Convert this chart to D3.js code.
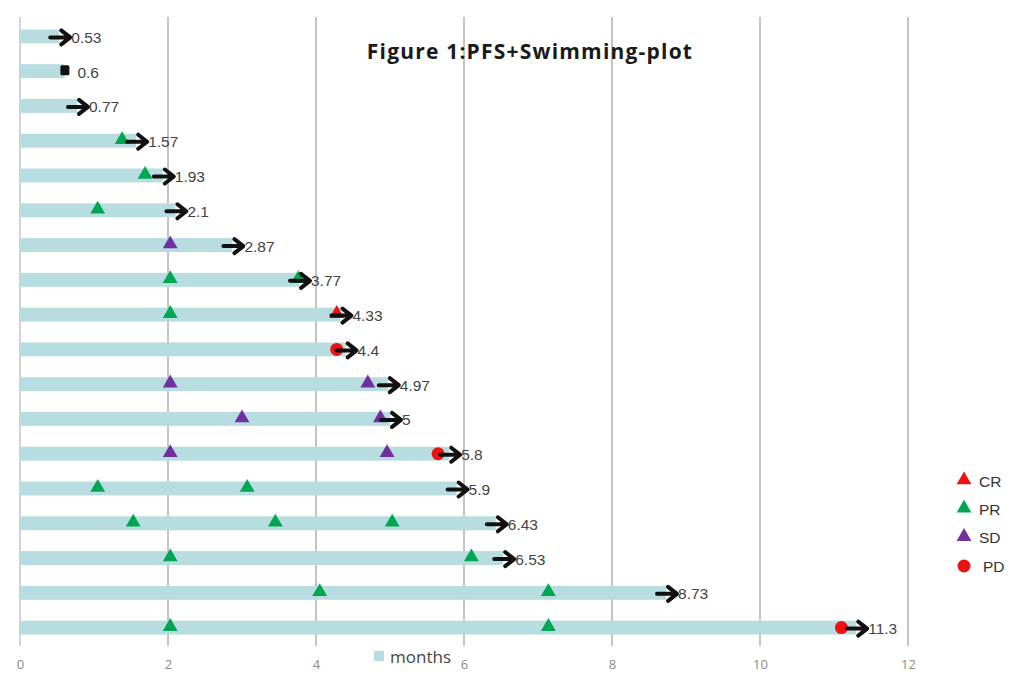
<!DOCTYPE html>
<html>
<head>
<meta charset="utf-8">
<script src="https://cdn.jsdelivr.net/npm/d3@7"></script>
<style>
  html, body { margin: 0; padding: 0; background: #fff; }
  svg { display: block; }
</style>
</head>
<body>
<svg id="chart" width="1034" height="675"></svg>
<script>
// ---- data ----
const durations = [0.53, 0.6, 0.77, 1.57, 1.93, 2.1, 2.87, 3.77, 4.33, 4.4, 4.97, 5, 5.8, 5.9, 6.43, 6.53, 8.73, 11.3];
const durationLabels = ["0.53", "0.6", "0.77", "1.57", "1.93", "2.1", "2.87", "3.77", "4.33", "4.4", "4.97", "5", "5.8", "5.9", "6.43", "6.53", "8.73", "11.3"];
const ongoing = [true, false, true, true, true, true, true, true, true, true, true, true, true, true, true, true, true, true];
const patients = d3.range(1, durations.length + 1);

// events: patient index (1-based, top to bottom) and time in months
const crPatients = [9];
const crTimes = [4.28];
const prPatients = [4, 5, 6, 8, 8, 9, 14, 14, 15, 15, 15, 16, 16, 17, 17, 18, 18];
const prTimes = [1.38, 1.69, 1.05, 2.03, 3.76, 2.03, 1.05, 3.07, 1.53, 3.45, 5.03, 2.03, 6.1, 4.05, 7.14, 2.03, 7.14];
const sdPatients = [7, 11, 11, 12, 12, 13, 13];
const sdTimes = [2.03, 2.03, 4.7, 3.0, 4.87, 2.03, 4.96];
const pdPatients = [10, 13, 18];
const pdTimes = [4.28, 5.65, 11.1];

const xTicks = [0, 2, 4, 6, 8, 10, 12];
const legendLabels = ["CR", "PR", "SD", "PD"];
const title = "Figure 1:PFS+Swimming-plot";
const seriesLabel = "months";

// ---- styles ----
const colors = { CR: "#ee1111", PR: "#00a651", SD: "#7030a0", PD: "#ee1111" };
const barColor = "#b7dde1";

const svg = d3.select("#chart");
const x = d3.scaleLinear().domain([0, 12]).range([20, 908]);
const y = d3.scaleBand().domain(patients).range([19, 645]).paddingInner(0.6).paddingOuter(0.3);

// gridlines
svg.append("g").selectAll("line").data(xTicks).join("line")
  .attr("x1", d => x(d)).attr("x2", d => x(d))
  .attr("y1", 17).attr("y2", 646)
  .attr("stroke", "#c4c4c4").attr("stroke-width", d => d === 0 ? 1.5 : 2);

// x axis labels
const xAxis = d3.axisBottom(x).tickValues(xTicks).tickSize(0).tickPadding(0);
const gx = svg.append("g").attr("transform", "translate(0,660)").call(xAxis);
gx.select(".domain").remove();
gx.selectAll("text").attr("font-family", "'Open Sans', sans-serif").attr("font-size", 13).attr("fill", "#8a8a8a");

// bars
svg.append("g").selectAll("rect").data(patients).join("rect")
  .attr("x", x(0)).attr("y", d => y(d))
  .attr("width", (d, i) => x(durations[i]) - x(0))
  .attr("height", y.bandwidth())
  .attr("fill", barColor);

const cy = p => y(p) + y.bandwidth() / 2;
const tri = d3.symbol().type(d3.symbolTriangle).size(95);

function drawTriangles(ps, ts, color) {
  svg.append("g").selectAll("path").data(ps).join("path")
    .attr("d", tri)
    .attr("transform", (p, i) => `translate(${x(ts[i])},${cy(p) - 1})`)
    .attr("fill", color);
}
drawTriangles(prPatients, prTimes, colors.PR);
drawTriangles(sdPatients, sdTimes, colors.SD);
drawTriangles(crPatients, crTimes, colors.CR);

svg.append("g").selectAll("circle").data(pdPatients).join("circle")
  .attr("cx", (p, i) => x(pdTimes[i])).attr("cy", p => cy(p))
  .attr("r", 6.5).attr("fill", colors.PD);

// arrows / end marks
const endG = svg.append("g");
patients.forEach((p, i) => {
  const ex = x(durations[i]);
  const yy = cy(p) + 1;
  if (ongoing[i]) {
    endG.append("path")
      .attr("d", `M${ex - 9},${yy} L${ex + 10},${yy} M${ex + 2},${yy - 7} L${ex + 11},${yy} L${ex + 2},${yy + 7}`)
      .attr("fill", "none").attr("stroke", "#111").attr("stroke-width", 4)
      .attr("stroke-linecap", "round").attr("stroke-linejoin", "round");
  } else {
    endG.append("rect")
      .attr("x", ex - 4).attr("y", yy - 7).attr("width", 9).attr("height", 10)
      .attr("rx", 1.5).attr("fill", "#111");
  }
  endG.append("text")
    .attr("x", ex + (ongoing[i] ? 12 : 13)).attr("y", yy + 5.5)
    .attr("font-family", "'Liberation Sans', Arial, sans-serif").attr("font-size", 15.5)
    .attr("fill", "#444").text(durationLabels[i]);
});

// title
svg.append("text").attr("x", 530).attr("y", 59).attr("text-anchor", "middle")
  .attr("font-family", "'Open Sans', sans-serif").attr("font-weight", "bold")
  .attr("font-size", 21).attr("letter-spacing", 1.2).attr("fill", "#1a1a1a").text(title);

// legend (right)
const legY = d3.scalePoint().domain(legendLabels).range([481, 566]);
const lg = svg.append("g");
legendLabels.forEach(k => {
  if (k === "PD") {
    lg.append("circle").attr("cx", 964).attr("cy", legY(k)).attr("r", 6.5).attr("fill", colors[k]);
  } else {
    lg.append("path").attr("d", tri).attr("transform", `translate(964,${legY(k) - 1})`).attr("fill", colors[k]);
  }
  lg.append("text").attr("x", k === "PD" ? 983 : 979).attr("y", legY(k) + 5.5)
    .attr("font-family", "'Liberation Sans', Arial, sans-serif").attr("font-size", 15.5)
    .attr("fill", "#333").text(k);
});

// series legend (bottom)
svg.append("rect").attr("x", 374).attr("y", 651).attr("width", 10).attr("height", 10).attr("fill", barColor);
svg.append("text").attr("x", 390).attr("y", 663)
  .attr("font-family", "'Open Sans', sans-serif").attr("font-size", 17)
  .attr("fill", "#444").text(seriesLabel);
</script>
</body>
</html>
